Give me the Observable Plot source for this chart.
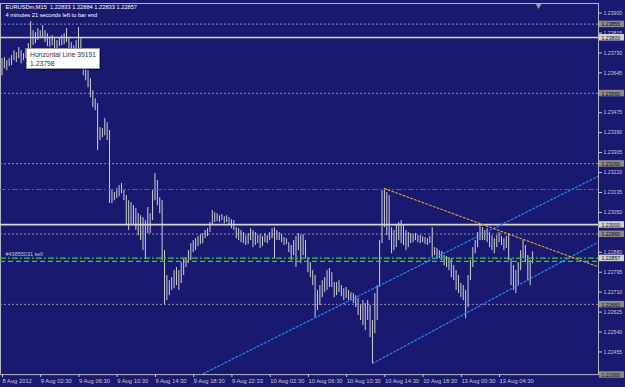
<!DOCTYPE html>
<html><head><meta charset="utf-8">
<script src="https://cdn.jsdelivr.net/npm/d3@7"></script>
<script src="https://cdn.jsdelivr.net/npm/@observablehq/plot@0.6"></script>
<style>
html,body{margin:0;padding:0;background:#191970;}
#wrap{position:relative;width:625px;height:387px;overflow:hidden;}
#tip{position:absolute;left:26px;top:48px;width:74px;height:21px;background:#fff;border:1px solid #9a9a9a;font-family:"Liberation Sans",Arial,sans-serif;font-size:6.8px;color:#333;line-height:9px;padding:1px 0 0 3px;box-sizing:border-box;box-shadow:1px 1px 1px rgba(0,0,0,0.45);white-space:nowrap;}
</style></head><body>
<div id="wrap"><div id="tip"></div></div>
<script>
// ---- data ----
const symbol = "EURUSDm", timeframe = "M15";
const timerText = "4 minutes 21 seconds left to bar end";
const lastOpen = 1.22833, lastHigh = 1.22884, lastLow = 1.22833, lastClose = 1.22857;

const barHigh = [
1.23708,1.23712,1.23699,1.23708,1.23721,1.23742,1.23733,1.23755,1.23742,1.23729,
1.23750,1.23772,1.23865,1.23827,1.23819,1.23836,1.23827,1.23848,1.23827,1.23814,
1.23801,1.23806,1.23793,1.23785,1.23797,1.23806,1.23814,1.23836,1.23797,1.23776,
1.23763,1.23785,1.23840,1.23793,1.23712,1.23678,1.23657,1.23622,1.23571,1.23537,
1.23516,1.23414,1.23409,1.23452,1.23435,1.23401,1.23145,1.23137,1.23154,1.23166,
1.23175,1.23145,1.23124,1.23102,1.23094,1.23081,1.23068,1.23047,1.23038,1.23030,
1.23017,1.23073,1.23047,1.23145,1.23218,1.23188,1.23115,1.23102,1.22889,1.22783,
1.22761,1.22774,1.22804,1.22817,1.22804,1.22838,1.22855,1.22859,1.22889,1.22919,
1.22932,1.22940,1.22949,1.22957,1.22962,1.22975,1.22983,1.23009,1.23060,1.23051,
1.23047,1.23038,1.23043,1.23034,1.23038,1.23030,1.23021,1.23017,1.22987,1.22983,
1.22975,1.22966,1.22953,1.22962,1.22983,1.22975,1.22966,1.22953,1.22957,1.22949,
1.22962,1.22953,1.22966,1.22983,1.22987,1.22975,1.22966,1.22957,1.22945,1.22940,
1.22923,1.22911,1.22932,1.22949,1.22962,1.22953,1.22957,1.22932,1.22859,1.22838,
1.22804,1.22783,1.22719,1.22740,1.22761,1.22774,1.22804,1.22813,1.22795,1.22753,
1.22753,1.22761,1.22740,1.22727,1.22732,1.22719,1.22710,1.22706,1.22697,1.22685,
1.22655,1.22676,1.22663,1.22676,1.22655,1.22591,1.22706,1.22740,1.22932,1.23145,
1.23154,1.23137,1.23124,1.22987,1.22975,1.22996,1.23009,1.23017,1.22996,1.22975,
1.22966,1.22962,1.22957,1.22962,1.22953,1.22953,1.22949,1.22945,1.22940,1.22949,
1.22987,1.22902,1.22898,1.22889,1.22885,1.22868,1.22864,1.22859,1.22855,1.22825,
1.22804,1.22783,1.22749,1.22740,1.22719,1.22783,1.22847,1.22902,1.22932,1.22966,
1.22996,1.22987,1.22975,1.22983,1.22966,1.22953,1.22940,1.22953,1.22966,1.22949,
1.22940,1.22949,1.22962,1.22855,1.22825,1.22804,1.22838,1.22889,1.22932,1.22911,
1.22868,1.22847,1.22884];

const barLow = [
1.23635,1.23665,1.23657,1.23674,1.23678,1.23699,1.23691,1.23708,1.23686,1.23699,
1.23708,1.23729,1.23742,1.23763,1.23772,1.23785,1.23793,1.23797,1.23776,1.23759,
1.23755,1.23763,1.23742,1.23750,1.23759,1.23763,1.23767,1.23776,1.23750,1.23721,
1.23699,1.23686,1.23742,1.23721,1.23635,1.23614,1.23584,1.23541,1.23499,1.23486,
1.23316,1.23358,1.23371,1.23379,1.23358,1.23090,1.23090,1.23102,1.23111,1.23119,
1.23132,1.23102,1.22996,1.22975,1.22996,1.22996,1.22975,1.22953,1.22932,1.22889,
1.22851,1.22962,1.22962,1.23017,1.23102,1.23081,1.23047,1.22847,1.22659,1.22676,
1.22697,1.22719,1.22727,1.22740,1.22719,1.22749,1.22783,1.22817,1.22834,1.22847,
1.22881,1.22889,1.22906,1.22915,1.22919,1.22940,1.22949,1.22966,1.22996,1.23009,
1.23013,1.23009,1.23017,1.23004,1.23009,1.22996,1.22983,1.22975,1.22940,1.22932,
1.22923,1.22919,1.22911,1.22915,1.22932,1.22902,1.22911,1.22919,1.22898,1.22906,
1.22923,1.22919,1.22932,1.22940,1.22855,1.22932,1.22932,1.22923,1.22911,1.22915,
1.22881,1.22847,1.22868,1.22817,1.22889,1.22834,1.22868,1.22855,1.22795,1.22774,
1.22740,1.22604,1.22634,1.22655,1.22689,1.22710,1.22719,1.22732,1.22732,1.22689,
1.22697,1.22710,1.22693,1.22676,1.22685,1.22676,1.22676,1.22663,1.22646,1.22612,
1.22591,1.22570,1.22548,1.22591,1.22518,1.22408,1.22535,1.22591,1.22732,1.22919,
1.22987,1.22953,1.22932,1.22876,1.22889,1.22902,1.22932,1.22919,1.22911,1.22889,
1.22902,1.22919,1.22923,1.22932,1.22923,1.22919,1.22923,1.22915,1.22911,1.22919,
1.22859,1.22868,1.22855,1.22855,1.22847,1.22825,1.22817,1.22804,1.22774,1.22761,
1.22719,1.22706,1.22689,1.22676,1.22599,1.22646,1.22761,1.22817,1.22876,1.22902,
1.22932,1.22932,1.22932,1.22923,1.22902,1.22889,1.22876,1.22902,1.22923,1.22911,
1.22889,1.22898,1.22847,1.22740,1.22719,1.22706,1.22740,1.22804,1.22855,1.22838,
1.22761,1.22740,1.22833];

const xTickBars = [0,16,32,48,64,80,96,112,128,144,160,176,192,208];
const xTickLabels = ["8 Aug 2012","9 Aug 02:30","9 Aug 06:30","9 Aug 10:30","9 Aug 14:30","9 Aug 18:30","9 Aug 22:33","10 Aug 02:30","10 Aug 06:30","10 Aug 10:30","10 Aug 14:30","10 Aug 18:30","13 Aug 00:30","13 Aug 04:30"];

const priceTicks = [1.23900,1.23815,1.23730,1.23645,1.23475,1.23390,1.23305,1.23220,1.23135,1.23050,1.22880,1.22795,1.22710,1.22625,1.22540,1.22455];

const solidLevels = [1.23798, 1.23000];
const dottedLevels = [1.23855, 1.23560, 1.23260, 1.22960, 1.22660, 1.22360];
const redLevels = [1.23150];
const greenDashDotLevels = [1.22857];
const greenDashLevels = [1.22843];
const orderLabel = "#43855031 sell";

const boxPrices = [1.23855, 1.23798, 1.23560, 1.23260, 1.23000, 1.22960, 1.22857, 1.22660, 1.22360];
const boxTexts  = ["1.23855","1.23800","1.23560","1.23260","1.23000","1.22960","1.22857","1.22660","1.22360"];
const boxLight  = [false, true, false, false, true, false, true, false, false];

const channelUpper = [{bar: 84.3, price: 1.22365}, {bar: 249.2, price: 1.23205}];
const channelLower = [{bar: 155, price: 1.22408}, {bar: 249.2, price: 1.22924}];
const resistance   = [{bar: 160, price: 1.23154}, {bar: 249.2, price: 1.22821}];

const tipName = "Horizontal Line 39191";
const tipPrice = 1.23798;
const shiftBar = [224.5];

const xDomain = [-0.63, 249.58];
const yDomain = [1.22361, 1.23943];

// ---- chart ----
const bars = d3.range(barHigh.length);
const boxes = boxPrices.map((p, i) => ({p, t: boxTexts[i], light: boxLight[i]}));
const header = `${symbol},${timeframe}  ${lastOpen.toFixed(5)} ${lastHigh.toFixed(5)} ${lastLow.toFixed(5)} ${lastClose.toFixed(5)}\n${timerText}`;
const font = '"Liberation Sans", Arial, sans-serif';

const chart = Plot.plot({
  width: 625, height: 387,
  marginLeft: 0, marginRight: 27, marginTop: 3, marginBottom: 13,
  x: {domain: xDomain, label: null},
  y: {domain: yDomain, label: null},
  style: {background: "#191970", color: "#c8c8d0", fontFamily: font, fontSize: "6px"},
  marks: [
    Plot.frame({stroke: "#b4b4c4", strokeWidth: 1}),
    Plot.ruleY(dottedLevels, {y: d => d, stroke: "#9090a8", strokeDasharray: "2,2", strokeWidth: 1}),
    Plot.ruleX(bars, {x: d => d, y1: d => barLow[d], y2: d => barHigh[d], stroke: "#d0d0d0", strokeWidth: 1}),
    Plot.ruleY(solidLevels, {y: d => d, stroke: "#d6d6ce", strokeWidth: 1.6}),
    Plot.ruleY(redLevels, {y: d => d, stroke: "#d03030", strokeDasharray: "6,2,2,2", strokeWidth: 1}),
    Plot.ruleY(greenDashDotLevels, {y: d => d, stroke: "#32cd32", strokeDasharray: "6,2,2,2", strokeWidth: 1.2}),
    Plot.ruleY(greenDashLevels, {y: d => d, stroke: "#32cd32", strokeDasharray: "5,3", strokeWidth: 1.2}),
    Plot.line(channelUpper, {x: "bar", y: "price", stroke: "#1e90ff", strokeDasharray: "2,2", strokeWidth: 1.1, clip: true}),
    Plot.line(channelLower, {x: "bar", y: "price", stroke: "#1e90ff", strokeDasharray: "2,2", strokeWidth: 1.1, clip: true}),
    Plot.line(resistance, {x: "bar", y: "price", stroke: "#e8a028", strokeDasharray: "2,2", strokeWidth: 1.1, clip: true}),
    Plot.text([orderLabel], {text: d => d, frameAnchor: "left", y: () => greenDashDotLevels[0], dx: 5, dy: -4, textAnchor: "start", fill: "#c8c8d0", fontSize: 5.5}),
    Plot.text([header], {text: d => d, frameAnchor: "top-left", dx: 5, dy: 0.5, lineAnchor: "top", lineHeight: 1.35, textAnchor: "start", fill: "#ffffff", fontSize: 5.7}),
    Plot.dot(shiftBar, {x: d => d, frameAnchor: "top", symbol: "triangle", rotate: 180, r: 2.2, fill: "#9a9aa0", stroke: "none", dy: 2}),
    Plot.axisY(priceTicks, {anchor: "right", label: null, tickSize: 3, tickPadding: 2, tickFormat: d => d.toFixed(5), color: "#c8c8d0", fontSize: 5.2, dy: -0.5}),
    Plot.axisX(xTickBars, {anchor: "bottom", label: null, tickSize: 3, tickPadding: 1, tickFormat: d => xTickLabels[xTickBars.indexOf(d)], textAnchor: "start", dx: 0.5, color: "#c8c8d0", fontSize: 5.8}),
    Plot.rect(boxes, {x1: () => xDomain[1], x2: () => xDomain[1], y1: "p", y2: "p", insetLeft: 1, insetRight: -26, insetTop: -3, insetBottom: -3.5, fill: d => d.light ? "#d0d0d0" : "#8a8a8a"}),
    Plot.text(boxes, {x: () => xDomain[1], y: "p", text: "t", dx: 3, dy: 0.6, textAnchor: "start", fill: "#101010", fontSize: 5.2})
  ]
});
document.getElementById("wrap").insertBefore(chart, document.getElementById("tip"));
document.getElementById("tip").innerHTML = `${tipName}<br>${tipPrice.toFixed(5)}`;
</script>
</body></html>
